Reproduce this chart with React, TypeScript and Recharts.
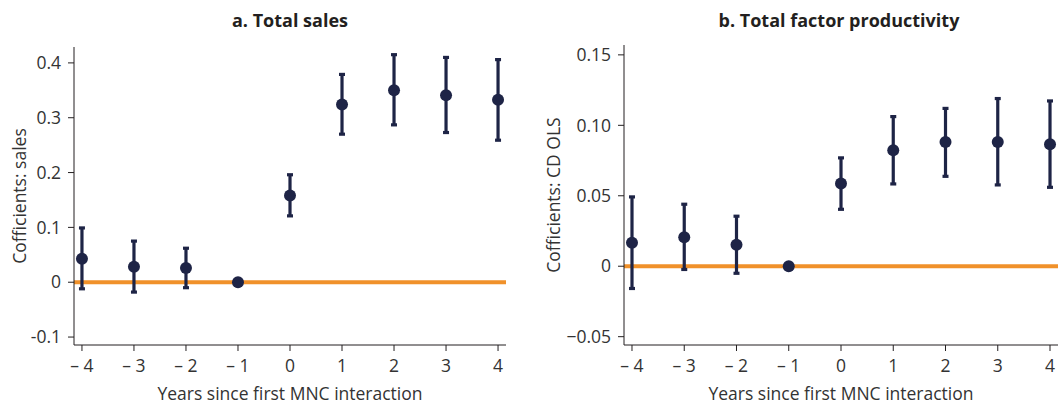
import React from "react";
import {
  ScatterChart,
  Scatter,
  XAxis,
  YAxis,
  ErrorBar,
  ReferenceLine,
} from "recharts";

const years = [-4, -3, -2, -1, 0, 1, 2, 3, 4];

const salesCoef = [0.043, 0.028, 0.026, 0, 0.158, 0.324, 0.35, 0.341, 0.333];
const salesLow = [-0.012, -0.018, -0.01, 0, 0.121, 0.27, 0.287, 0.273, 0.259];
const salesHigh = [0.099, 0.075, 0.062, 0, 0.196, 0.379, 0.415, 0.41, 0.406];
const salesTicks = [-0.1, 0, 0.1, 0.2, 0.3, 0.4];

const tfpCoef = [0.0166, 0.0206, 0.0152, 0, 0.0587, 0.0823, 0.0882, 0.0882, 0.0865];
const tfpLow = [-0.0158, -0.0023, -0.005, 0, 0.0404, 0.0584, 0.0638, 0.0577, 0.056];
const tfpHigh = [0.0492, 0.044, 0.0355, 0, 0.0769, 0.1062, 0.112, 0.119, 0.1173];
const tfpTicks = [-0.05, 0, 0.05, 0.1, 0.15];

const NAVY = "#1e2446";
const ORANGE = "#f0912a";
const INK = "#231f20";
const TEXT = "#333333";
const FONT = "'Open Sans', sans-serif";
const FS = 17.5;

const build = (coef: number[], lo: number[], hi: number[]) =>
  years.map((x, i) => ({ x, y: coef[i], err: [coef[i] - lo[i], hi[i] - coef[i]] }));

const fmtYear = (v: number) => (v < 0 ? `\u2013 ${Math.abs(v)}` : String(v));

const Dot = (p: any) => <circle cx={p.cx} cy={p.cy} r={6} fill={NAVY} />;

type PanelProps = {
  title: string;
  yLabel: string;
  data: { x: number; y: number; err: number[] }[];
  yDomain: [number, number];
  yTicks: number[];
  yFmt: (v: number) => string;
  left: number;
  width: number;
  axisWidth: number;
  labelX: number;
  top: number;
  right: number;
  titleX: number;
};

function Panel(p: PanelProps) {
  const tick = { fontSize: FS, fill: TEXT, fontFamily: FONT };
  return (
    <div style={{ position: "absolute", left: p.left, top: 0, width: p.width, height: 405 }}>
      <div
        style={{
          position: "absolute",
          left: p.titleX - 200,
          width: 400,
          top: 7,
          textAlign: "center",
          fontFamily: FONT,
          fontWeight: 700,
          fontSize: 18,
          color: INK,
          lineHeight: "26px",
        }}
      >
        {p.title}
      </div>
      <ScatterChart
        width={p.width}
        height={405}
        margin={{ top: p.top, right: p.right, bottom: 0, left: 0 }}
      >
        <XAxis
          type="number"
          dataKey="x"
          domain={[-4.153, 4.153]}
          ticks={years}
          tickFormatter={fmtYear}
          height={60}
          tickSize={6}
          tickMargin={9}
          stroke={INK}
          tick={tick}
          label={{
            value: "Years since first MNC interaction",
            position: "insideBottom",
            offset: 5,
            style: { fontSize: FS, fill: TEXT, fontFamily: FONT },
          }}
        />
        <YAxis
          type="number"
          dataKey="y"
          domain={p.yDomain}
          ticks={p.yTicks}
          tickFormatter={p.yFmt}
          width={p.axisWidth}
          tickSize={6}
          tickMargin={7}
          stroke={INK}
          tick={tick}
          allowDataOverflow
          label={{
            value: p.yLabel,
            angle: -90,
            position: "insideLeft",
            offset: p.labelX,
            style: { textAnchor: "middle", fontSize: FS, fill: TEXT, fontFamily: FONT },
          }}
        />
        <ReferenceLine y={0} stroke={ORANGE} strokeWidth={4} />
        <Scatter data={p.data} shape={Dot} isAnimationActive={false}>
          <ErrorBar dataKey="err" direction="y" width={3} strokeWidth={3.2} stroke={NAVY} />
        </Scatter>
      </ScatterChart>
    </div>
  );
}

export default function App() {
  return (
    <div style={{ position: "absolute", left: 0, top: 0, width: 1058, height: 405, background: "#fff", overflow: "hidden" }}>
      <Panel
        title="a. Total sales"
        yLabel="Cofficients: sales"
        data={build(salesCoef, salesLow, salesHigh)}
        yDomain={[-0.1145, 0.429]}
        yTicks={salesTicks}
        yFmt={(v) => (v === 0 ? "0" : v.toFixed(1))}
        left={0}
        width={530}
        axisWidth={74}
        labelX={20}
        top={47}
        right={24}
        titleX={290}
      />
      <Panel
        title="b. Total factor productivity"
        yLabel="Cofficients: CD OLS"
        data={build(tfpCoef, tfpLow, tfpHigh)}
        yDomain={[-0.0559, 0.157]}
        yTicks={tfpTicks}
        yFmt={(v) => (v === 0 ? "0" : v < 0 ? `\u2212${Math.abs(v).toFixed(2)}` : v.toFixed(2))}
        left={530}
        width={528}
        axisWidth={94}
        labelX={24}
        top={45}
        right={0}
        titleX={309}
      />
    </div>
  );
}
